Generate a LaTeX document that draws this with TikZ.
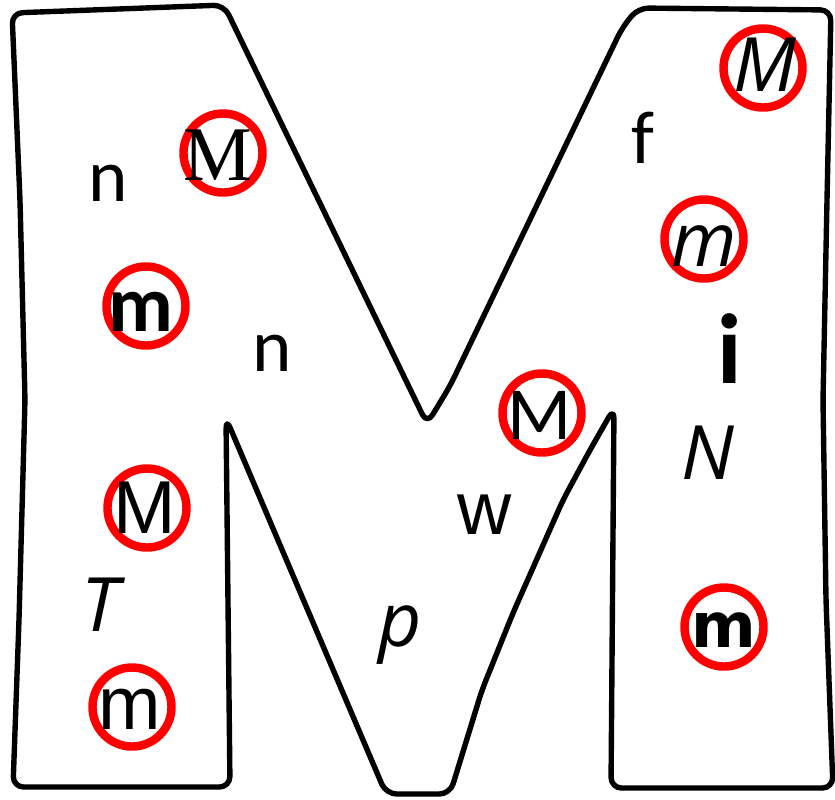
\documentclass[tikz,border=0pt]{standalone}
\usepackage{fontspec}
\newfontfamily\carlitofont{Carlito}
\newfontfamily\arialfont{Liberation Sans}
\newfontfamily\timesfont{Liberation Serif}
\newfontfamily\dejavufont{DejaVu Sans}
\newfontfamily\handfont{Open Sans}
\tikzstyle{mshape} = [draw=black, line width=4.6pt, rounded corners=9pt, line join=round]
\tikzstyle{ring} = [circle, draw=red, line width=7.2pt, minimum size=2.37cm, inner sep=0pt]
\tikzstyle{letter} = [inner sep=0pt, text=black]
\tikzstyle{calibri} = [letter, font=\carlitofont\fontsize{64pt}{64pt}\selectfont]
\tikzstyle{calibri_bold} = [letter, font=\carlitofont\bfseries\fontsize{68pt}{68pt}\selectfont]
\tikzstyle{arial} = [letter, font=\arialfont\fontsize{64pt}{64pt}\selectfont]
\tikzstyle{serif} = [letter, font=\timesfont\fontsize{66pt}{66pt}\selectfont]
\tikzstyle{heavy} = [letter, font=\dejavufont\bfseries\fontsize{53pt}{53pt}\selectfont]
\tikzstyle{hand} = [letter, font=\handfont\itshape\fontsize{64pt}{64pt}\selectfont]

\begin{document}
\begin{tikzpicture}[x=0.03cm, y=-0.03cm]
    \useasboundingbox (0,0) rectangle (835,799);
    \draw [mshape] (12,13) -- (224,5) -- (427,424) -- (450,386) -- (622,28) -- (638,8) -- (831,10)
        -- (827,200) -- (823,400) -- (826,600) -- (833,788) -- (611,788) -- (614,408) -- (590,450)
        -- (563,500) -- (513,613) -- (482,690) -- (450,794) -- (386,794) -- (226,418) -- (230,787)
        -- (13,787) -- (19,620) -- (25,400) -- (20,200) -- cycle;

    \node (ringSerif) [ring] at (223,153) {};
    \node (ringBold) [ring] at (146,306) {};
    \node (ringArial) [ring] at (147,508) {};
    \node (ringSmall) [ring] at (132,707) {};
    \node (ringMid) [ring] at (542,413) {};
    \node (ringHandM) [ring] at (763,68) {};
    \node (ringHandm) [ring] at (704,239) {};
    \node (ringHeavy) [ring] at (724,627) {};

    \node (MSerif) [serif, xshift=-4pt, yshift=-2pt] at (ringSerif) {M};
    \node (mBold) [calibri_bold, xshift=-4pt, yshift=-5pt] at (ringBold) {m};
    \node (MArial) [arial, xshift=-2pt] at (ringArial) {M};
    \node (mArial) [arial, xshift=-2pt, yshift=-2pt] at (ringSmall) {m};
    \node (MMid) [calibri, xshift=-2pt, yshift=-2pt] at (ringMid) {M};
    \node (MHand) [hand, xshift=2pt, yshift=3pt] at (ringHandM) {M};
    \node (mHand) [hand, yshift=-6pt] at (ringHandm) {m};
    \node (mHeavy) [heavy, yshift=-3pt] at (ringHeavy) {m};

    \node (nTop) [calibri] at (108,183) {n};
    \node (nMid) [calibri] at (272,353) {n};
    \node (THand) [hand] at (100,605) {T};
    \node (pHand) [hand] at (400,635) {p};
    \node (wSans) [arial] at (485,515) {w};
    \node (fSans) [calibri] at (643,138) {f};
    \node (iBold) [calibri_bold, font=\carlitofont\bfseries\fontsize{85pt}{85pt}\selectfont] at (730,349) {i};
    \node (NHand) [hand] at (708,453) {N};
\end{tikzpicture}
\end{document}
